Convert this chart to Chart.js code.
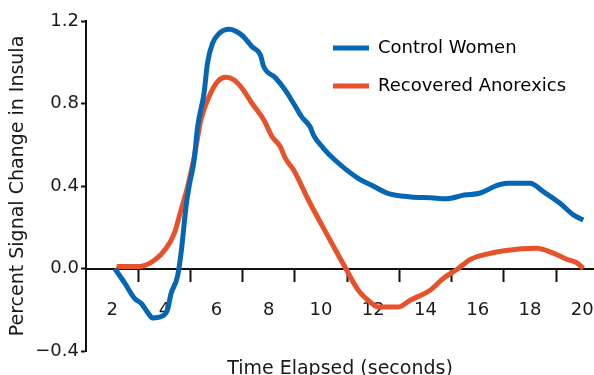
<!DOCTYPE html>
<html>
<head>
<meta charset="utf-8">
<script src="https://cdn.jsdelivr.net/npm/chart.js@4.4.1/dist/chart.umd.min.js"></script>
<style>
  html, body { margin: 0; padding: 0; background: #ffffff; }
  #wrap { width: 594px; height: 375px; }
</style>
</head>
<body>
<div id="wrap"><canvas id="c" width="594" height="375"></canvas></div>
<script>
// ---- Data ----
const seriesNames = ["Control Women", "Recovered Anorexics"];

const controlTime = [2.1, 2.48, 2.86, 3.12, 3.43, 3.55, 3.93, 4.12, 4.26, 4.5, 4.64, 4.83, 4.95, 5.14, 5.27, 5.52, 5.65, 5.84, 6.1, 6.48, 6.98, 7.36, 7.68, 7.8, 8.25, 8.63, 8.95, 9.26, 9.58, 9.71, 10.09, 10.53, 11.42, 11.92, 12.56, 13.44, 14.2, 14.8, 15.48, 16.1, 16.68, 17.12, 18.0, 18.52, 19.15, 19.66, 20.04];
const controlSignal = [0.0, -0.07, -0.145, -0.17, -0.225, -0.24, -0.23, -0.2, -0.12, -0.04, 0.075, 0.3, 0.4, 0.525, 0.685, 0.85, 0.995, 1.09, 1.14, 1.16, 1.13, 1.075, 1.035, 0.98, 0.925, 0.865, 0.8, 0.735, 0.687, 0.647, 0.583, 0.526, 0.437, 0.405, 0.364, 0.347, 0.343, 0.338, 0.356, 0.366, 0.4, 0.413, 0.413, 0.372, 0.316, 0.26, 0.235];

const anorexicTime = [2.17, 3.05, 3.62, 4.07, 4.38, 4.64, 4.89, 5.14, 5.4, 5.71, 6.03, 6.35, 6.67, 6.98, 7.36, 7.81, 8.12, 8.44, 8.63, 8.95, 9.52, 10.28, 10.91, 11.42, 11.92, 12.18, 12.94, 13.43, 14.19, 14.71, 15.2, 15.73, 16.35, 17.0, 18.26, 18.77, 19.4, 19.78, 20.04];
const anorexicSignal = [0.01, 0.01, 0.04, 0.098, 0.17, 0.284, 0.397, 0.54, 0.72, 0.833, 0.905, 0.927, 0.914, 0.873, 0.8, 0.72, 0.64, 0.59, 0.535, 0.477, 0.331, 0.153, 0.008, -0.104, -0.167, -0.187, -0.187, -0.153, -0.104, -0.045, -0.005, 0.045, 0.07, 0.086, 0.098, 0.081, 0.045, 0.028, 0.0];

const xLabelValues = [2, 4, 6, 8, 10, 12, 14, 16, 18, 20];
const xTickMarkValues = [3, 5, 7, 9, 11, 13, 15, 17, 19];
const yTickValues = [-0.4, 0.0, 0.4, 0.8, 1.2];

const xTitle = "Time Elapsed (seconds)";
const yTitle = "Percent Signal Change in Insula";

const colors = ["#0567b4", "#e6532b"];

function pairs(xs, ys) { return xs.map((x, i) => ({ x: x, y: ys[i] })); }

Chart.defaults.font.family = "'DejaVu Sans', sans-serif";
Chart.defaults.color = "#1a1a1a";

const legendShift = {
  id: "legendShift",
  afterLayout(chart) {
    const lg = chart.legend;
    if (!lg) return;
    const dx = 313 - lg.left;
    const dy = 19 - lg.top;
    lg.left += dx; lg.right += dx;
    lg.top += dy; lg.bottom += dy;
  }
};

new Chart(document.getElementById("c"), {
  type: "line",
  data: {
    datasets: [
      {
        label: seriesNames[0],
        data: pairs(controlTime, controlSignal),
        borderColor: colors[0],
        backgroundColor: colors[0],
        borderWidth: 5,
        pointRadius: 0,
        cubicInterpolationMode: "monotone",
        borderJoinStyle: "round",
        fill: false
      },
      {
        label: seriesNames[1],
        data: pairs(anorexicTime, anorexicSignal),
        borderColor: colors[1],
        backgroundColor: colors[1],
        borderWidth: 5,
        pointRadius: 0,
        cubicInterpolationMode: "monotone",
        borderJoinStyle: "round",
        fill: false
      }
    ]
  },
  options: {
    responsive: false,
    animation: false,
    devicePixelRatio: 1,
    layout: { padding: { left: 0, right: 0, top: 21, bottom: 24 } },
    plugins: {
      tooltip: { enabled: false },
      legend: {
        position: "chartArea",
        align: "start",
        labels: {
          boxWidth: 36,
          boxHeight: 5,
          padding: 20,
          color: "#1a1a1a",
          font: { size: 18 },
          generateLabels(chart) {
            return chart.data.datasets.map((ds, i) => ({
              text: ds.label,
              fillStyle: ds.borderColor,
              strokeStyle: ds.borderColor,
              lineWidth: 0,
              hidden: false,
              datasetIndex: i
            }));
          }
        }
      }
    },
    scales: {
      x: {
        type: "linear",
        position: { y: 0 },
        min: 1,
        max: 20.45,
        afterFit: (scale) => { scale.paddingLeft = 0; scale.paddingRight = 0; },
        border: { display: true, color: "#111", width: 2 },
        grid: {
          drawOnChartArea: false,
          drawTicks: true,
          tickLength: 12,
          tickWidth: 2,
          tickColor: (ctx) => (ctx.tick && xTickMarkValues.includes(ctx.tick.value)) ? "#111" : "rgba(0,0,0,0)"
        },
        ticks: {
          stepSize: 1,
          includeBounds: false,
          autoSkip: false,
          maxRotation: 0,
          padding: 19,
          font: { size: 18 },
          color: "#1a1a1a",
          callback: (v) => xLabelValues.includes(v) ? String(v) : ""
        },
        title: {
          display: true,
          text: xTitle,
          font: { size: 19 },
          color: "#1a1a1a",
          padding: { top: 18, bottom: 0 }
        }
      },
      y: {
        type: "linear",
        position: "left",
        min: yTickValues[0],
        max: yTickValues[yTickValues.length - 1],
        afterFit: (scale) => { scale.width = 86; },
        border: { display: true, color: "#111", width: 2 },
        grid: {
          drawOnChartArea: false,
          drawTicks: true,
          tickLength: 5,
          tickWidth: 2,
          tickColor: "#111"
        },
        afterBuildTicks: (scale) => { scale.ticks = yTickValues.map(v => ({ value: v })); },
        ticks: {
          padding: 2,
          font: { size: 18 },
          color: "#1a1a1a",
          callback: (v) => {
            const s = Number(v).toFixed(1);
            return s.startsWith("-") ? "\u2212" + s.slice(1) : s;
          }
        },
        title: {
          display: true,
          text: yTitle,
          font: { size: 19 },
          color: "#1a1a1a",
          padding: { top: 7, bottom: 0 }
        }
      }
    }
  },
  plugins: [legendShift]
});
</script>
</body>
</html>
